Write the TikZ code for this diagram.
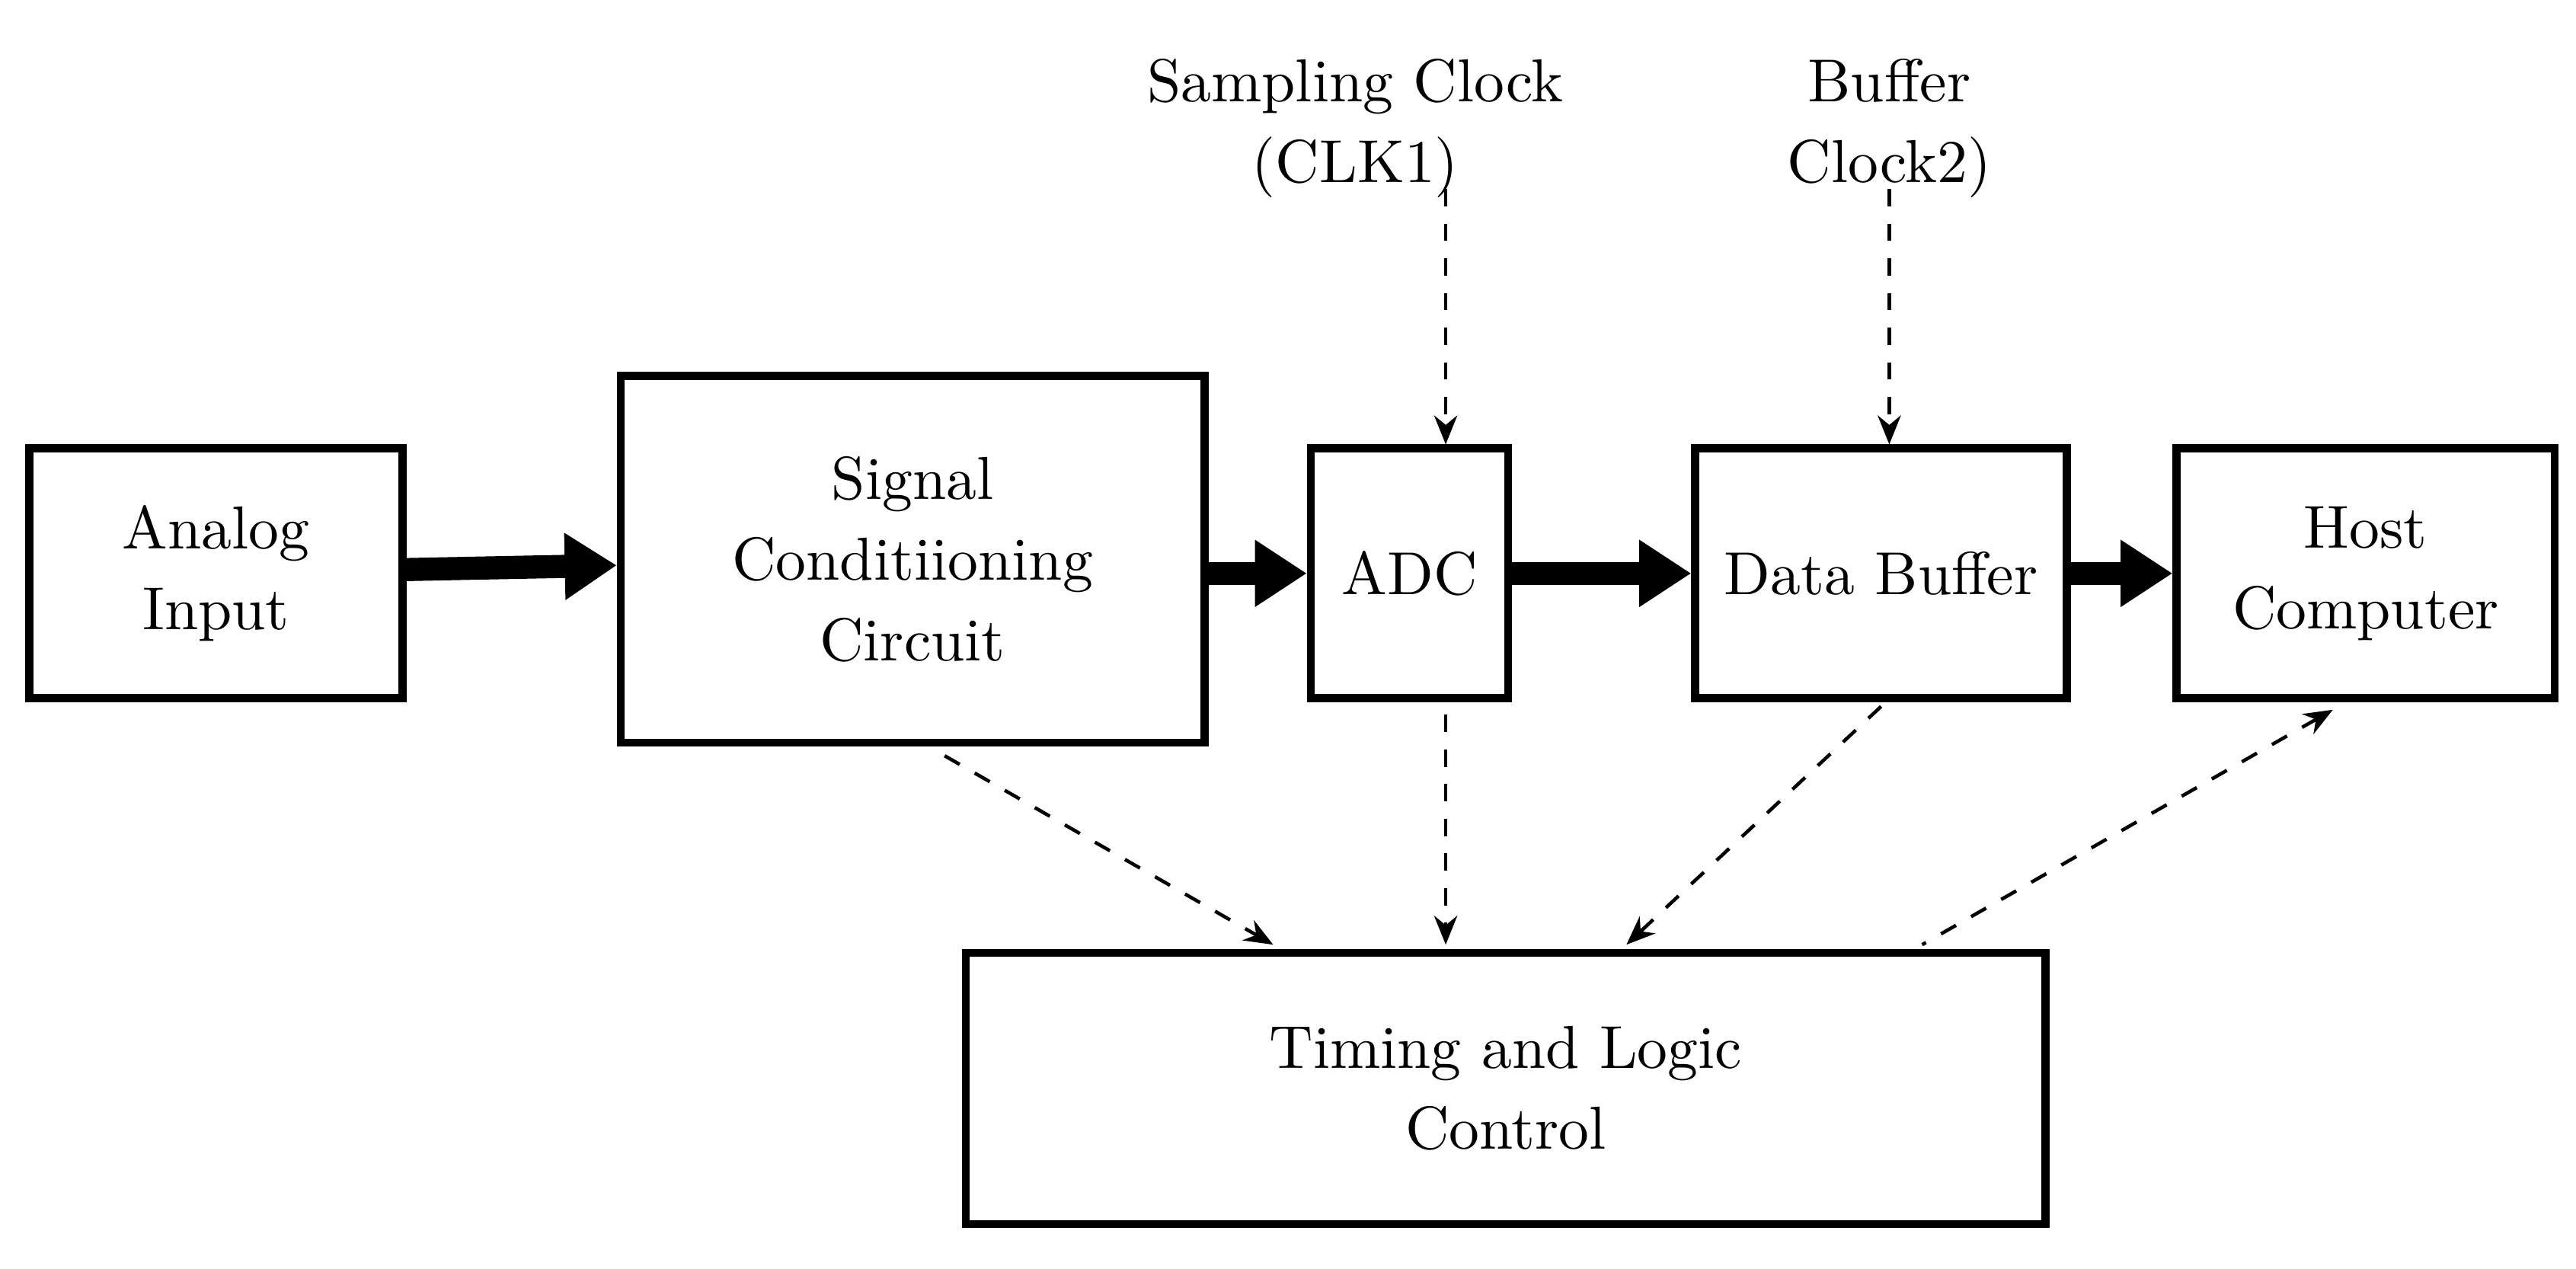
\documentclass[tikz,border=0pt]{standalone}
\usetikzlibrary{arrows.meta,positioning}
\begin{document}
\begin{tikzpicture}[x=0.01cm,y=-0.01cm]
    \tikzset{block/.style = {shape=rectangle,draw,line width=1.4pt,align=center,
        font=\fontsize{10.5}{14}\selectfont,inner sep=0pt}}
    \tikzset{clk/.style = {align=center,font=\fontsize{10.5}{14}\selectfont}}
    \tikzset{flow/.style = {-{Triangle[length=9pt,width=11pt]},line width=4pt}}
    \tikzset{ctrl/.style = {-{Stealth[length=5pt,width=4pt]},dashed,line width=0.6pt}}
    \useasboundingbox (0,0) rectangle (1568,772);

    % data path
    \node[block,minimum width=227\pgflinewidth] (ain) at (131.5,349)
        [minimum width=2.27cm,minimum height=1.52cm] {Analog\\Input};
    \node[block] (sig) at (555.5,340.5)
        [minimum width=3.55cm,minimum height=2.23cm] {Signal\\Conditiioning\\Circuit};
    \node[block] (adc) at (858,349)
        [minimum width=1.2cm,minimum height=1.52cm] {ADC};
    \node[block] (buf) at (1145,349)
        [minimum width=2.26cm,minimum height=1.52cm] {Data Buffer};
    \node[block] (host) at (1440,349)
        [minimum width=2.3cm,minimum height=1.52cm] {Host\\Computer};
    \node[block] (ctl) at (916.5,662.5)
        [minimum width=6.57cm,minimum height=1.65cm] {Timing and Logic\\Control};

    \draw[flow] (ain) -- (sig);
    \draw[flow] (sig.east |- adc) -- (adc);
    \draw[flow] (adc) -- (buf);
    \draw[flow] (buf) -- (host);

    % clocks
    \node[clk] (clk1) at (825,78) {Sampling Clock\\(CLK1)};
    \node[clk] (clk2) at (1150,78) {Buffer\\Clock2)};
    \coordinate (c1) at (880,115);
    \coordinate (c2) at (1150,115);
    \draw[ctrl] (c1) -- (adc.north -| c1);
    \draw[ctrl] (c2) -- (buf.north -| c2);

    % control lines
    \coordinate (s1) at (575,460);
    \coordinate (t1) at (775,575);
    \coordinate (s2) at (880,435);
    \coordinate (t2) at (880,575);
    \coordinate (s3) at (1145,430);
    \coordinate (t3) at (990,575);
    \coordinate (s4) at (1420,432);
    \coordinate (t4) at (1170,575);
    \draw[ctrl] (s1) -- (t1);
    \draw[ctrl] (s2) -- (t2);
    \draw[ctrl] (s3) -- (t3);
    \draw[ctrl,{Stealth[length=5pt,width=4pt]}-] (s4) -- (t4);
\end{tikzpicture}
\end{document}
